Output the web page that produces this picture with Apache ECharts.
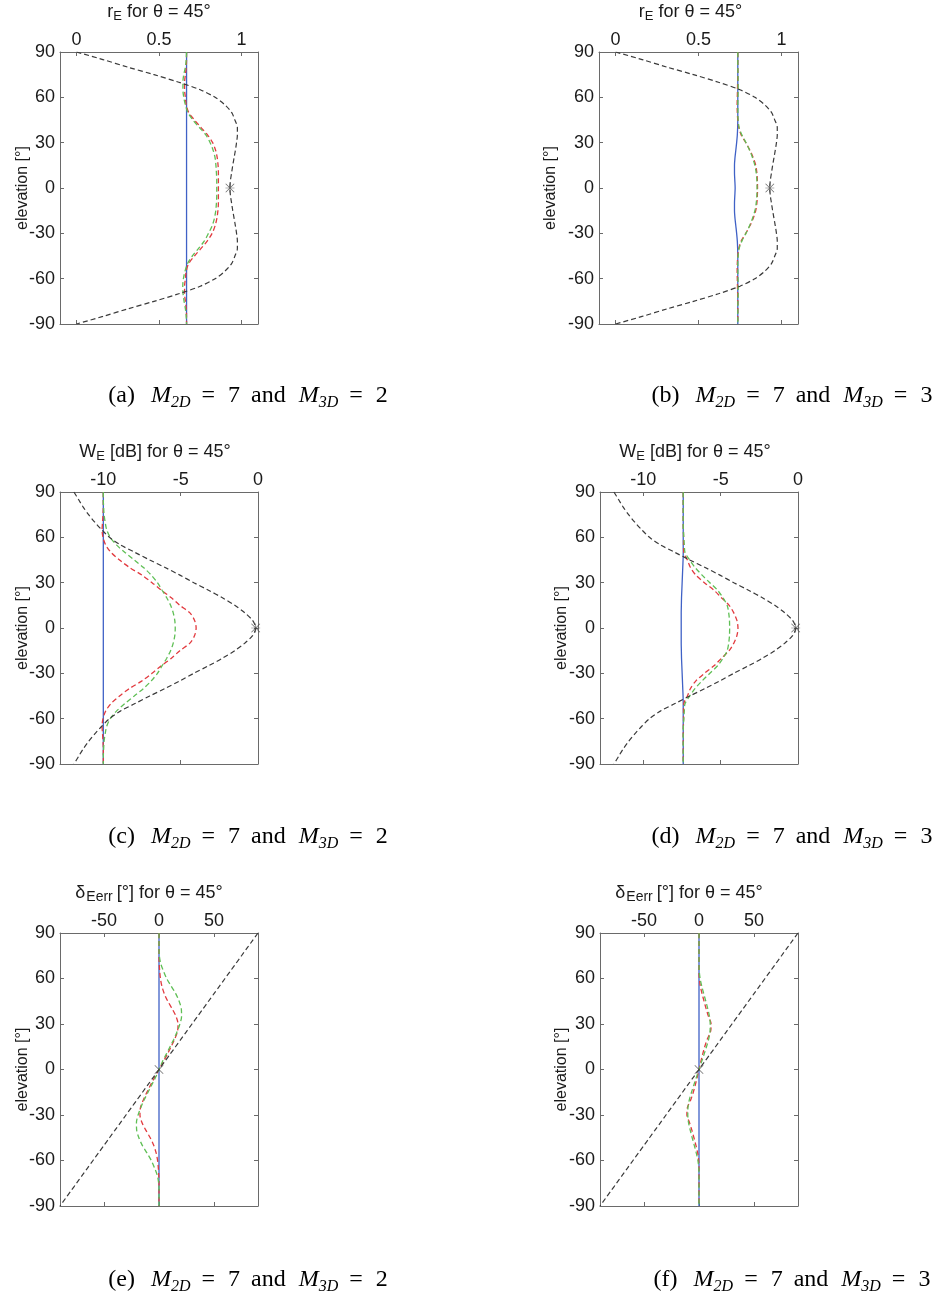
<!DOCTYPE html>
<html><head><meta charset="utf-8">
<script src="https://cdn.jsdelivr.net/npm/echarts@6/dist/echarts.min.js"></script>
<style>html,body{margin:0;padding:0;background:#fff}#c{width:936px;height:1296px}</style>
</head><body><div id="c"></div>
<script>
// elevation samples (degrees), top to bottom
const elevation = [90,85,80,75,70,65,60,55,50,45,40,35,30,25,20,15,10,5,0,-5,-10,-15,-20,-25,-30,-35,-40,-45,-50,-55,-60,-65,-70,-75,-80,-85,-90];
const elevationTicks = [-90,-60,-30,0,30,60,90];

// ---- r_E panels (a), (b)
const rETicks = [0, 0.5, 1];
const rERef = [0.00,0.16,0.31,0.47,0.62,0.75,0.84,0.90,0.94,0.96,0.975,0.975,0.97,0.963,0.955,0.947,0.94,0.933,
  0.93,
  0.933,0.94,0.947,0.955,0.963,0.97,0.975,0.975,0.96,0.94,0.90,0.84,0.75,0.62,0.47,0.31,0.16,0.00];
const rEBlueA = [0.667,0.667,0.667,0.667,0.667,0.667,0.667,0.667,0.667,0.667,0.667,0.667,0.667,0.667,0.667,0.667,0.667,0.667,
  0.667,
  0.667,0.667,0.667,0.667,0.667,0.667,0.667,0.667,0.667,0.667,0.667,0.667,0.667,0.667,0.667,0.667,0.667,0.667];
const rERedA = [0.667,0.667,0.665,0.660,0.655,0.655,0.660,0.665,0.680,0.715,0.755,0.795,0.825,0.843,0.853,0.858,0.860,0.860,
  0.860,
  0.860,0.860,0.857,0.851,0.840,0.822,0.793,0.755,0.715,0.680,0.665,0.660,0.655,0.655,0.660,0.665,0.667,0.667];
const rEGreenA = [0.667,0.665,0.660,0.650,0.645,0.645,0.650,0.660,0.675,0.705,0.745,0.785,0.810,0.828,0.840,0.845,0.848,0.850,
  0.850,
  0.850,0.848,0.844,0.836,0.822,0.800,0.775,0.740,0.702,0.673,0.658,0.648,0.644,0.646,0.652,0.660,0.665,0.667];
const rEBlueB = [0.737,0.737,0.737,0.737,0.737,0.737,0.737,0.737,0.737,0.737,0.736,0.734,0.730,0.725,0.720,0.717,0.717,0.719,
  0.721,
  0.719,0.717,0.717,0.720,0.725,0.730,0.734,0.736,0.737,0.737,0.737,0.737,0.737,0.737,0.737,0.737,0.737,0.737];
const rERedB = [0.737,0.737,0.737,0.737,0.736,0.735,0.734,0.733,0.734,0.737,0.743,0.758,0.785,0.810,0.830,0.845,0.852,0.855,
  0.856,
  0.855,0.852,0.845,0.830,0.810,0.785,0.758,0.743,0.737,0.734,0.733,0.734,0.735,0.736,0.737,0.737,0.737,0.737];
const rEGreenB = [0.737,0.737,0.737,0.738,0.739,0.739,0.738,0.737,0.737,0.739,0.745,0.762,0.786,0.808,0.826,0.840,0.848,0.852,
  0.853,
  0.852,0.848,0.840,0.826,0.808,0.786,0.762,0.745,0.739,0.737,0.737,0.738,0.739,0.739,0.738,0.737,0.737,0.737];
const rEMarker = [0.93, 0];

// ---- W_E panels (c), (d)  [dB]
const WTicks = [-10, -5, 0];
const WRef = [-11.9,-11.6,-11.3,-10.95,-10.55,-10.1,-9.6,-8.9,-7.95,-7.0,-6.0,-5.05,-4.15,-3.2,-2.3,-1.5,-0.85,-0.35,
  -0.15,
  -0.35,-0.85,-1.5,-2.3,-3.2,-4.15,-5.05,-6.0,-7.0,-7.95,-8.9,-9.6,-10.1,-10.55,-10.95,-11.3,-11.6,-11.9];
const WBlueC = [-10,-10,-10,-10,-10,-10,-10,-10,-10,-10,-10,-10,-10,-10,-10,-10,-10,-10,
  -10,
  -10,-10,-10,-10,-10,-10,-10,-10,-10,-10,-10,-10,-10,-10,-10,-10,-10,-10];
const WRedC = [-10,-10,-10,-10.02,-10.05,-10.08,-10.02,-9.85,-9.5,-8.95,-8.3,-7.5,-6.85,-6.25,-5.6,-5.05,-4.4,-4.1,
  -4.0,
  -4.1,-4.4,-5.05,-5.6,-6.25,-6.85,-7.5,-8.3,-8.95,-9.5,-9.85,-10.02,-10.08,-10.05,-10.02,-10,-10,-10];
const WGreenC = [-10,-10,-9.98,-9.95,-9.88,-9.78,-9.55,-9.15,-8.6,-8.0,-7.4,-6.9,-6.5,-6.2,-5.9,-5.65,-5.48,-5.38,
  -5.35,
  -5.38,-5.48,-5.65,-5.9,-6.2,-6.5,-6.9,-7.4,-8.0,-8.6,-9.15,-9.55,-9.78,-9.88,-9.95,-9.98,-10,-10];
const WBlueD = [-7.42,-7.42,-7.42,-7.42,-7.42,-7.42,-7.42,-7.42,-7.42,-7.43,-7.45,-7.47,-7.49,-7.51,-7.53,-7.54,-7.55,-7.55,
  -7.55,
  -7.55,-7.55,-7.54,-7.53,-7.51,-7.49,-7.47,-7.45,-7.43,-7.42,-7.42,-7.42,-7.42,-7.42,-7.42,-7.42,-7.42,-7.42];
const WRedD = [-7.42,-7.42,-7.42,-7.42,-7.42,-7.41,-7.4,-7.4,-7.38,-7.15,-6.95,-6.6,-6.05,-5.43,-4.95,-4.45,-4.15,-3.95,
  -3.88,
  -3.95,-4.15,-4.45,-4.95,-5.43,-6.05,-6.6,-6.95,-7.15,-7.38,-7.4,-7.4,-7.41,-7.42,-7.42,-7.42,-7.42,-7.42];
const WGreenD = [-7.42,-7.42,-7.42,-7.42,-7.42,-7.41,-7.38,-7.35,-7.3,-7.0,-6.65,-6.2,-5.7,-5.2,-4.85,-4.58,-4.48,-4.43,
  -4.42,
  -4.43,-4.48,-4.58,-4.85,-5.2,-5.7,-6.2,-6.65,-7.0,-7.3,-7.35,-7.38,-7.41,-7.42,-7.42,-7.42,-7.42,-7.42];
const WMarker = [-0.15, 0];

// ---- delta_Eerr panels (e), (f)  [deg]
const dTicks = [-50, 0, 50];
const dRef = [90,85,80,75,70,65,60,55,50,45,40,35,30,25,20,15,10,5,0,-5,-10,-15,-20,-25,-30,-35,-40,-45,-50,-55,-60,-65,-70,-75,-80,-85,-90];
const dBlue = [0,0,0,0,0,0,0,0,0,0,0,0,0,0,0,0,0,0,0,0,0,0,0,0,0,0,0,0,0,0,0,0,0,0,0,0,0];
const dRedE = [0,0,0,0,0.2,0.6,1.3,2.6,4.8,8,12,15.5,17.3,16.8,14.2,11,7.5,3.8,
  0,
  -3.8,-7.5,-11,-14.2,-16.8,-17.3,-15.5,-12,-8,-4.8,-2.6,-1.3,-0.6,-0.2,0,0,0,0];
const dGreenE = [0,0,0,0.3,1.5,4,7,11,15.2,18.3,20.3,20.5,19,16.5,13.5,10,6.5,3,
  0,
  -3,-6.5,-10,-13.5,-16.5,-19,-20.5,-20.3,-18.3,-15.2,-11,-7,-4,-1.5,-0.3,0,0,0];
const dRedF = [0,0,0,0,0,0,0.3,1.2,2.8,4.6,6.5,8.6,11,10.5,7.5,5.2,3.3,1.6,
  0,
  -1.6,-3.3,-5.2,-7.5,-10.5,-11,-8.6,-6.5,-4.6,-2.8,-1.2,-0.3,0,0,0,0,0,0];
const dGreenF = [0,0,0,0,0,0.2,1,2.5,4.3,6.2,8,9.5,10.2,10,8.8,6.8,4.6,2.3,
  0,
  -2.3,-4.6,-6.8,-8.8,-10,-10.2,-9.5,-8,-6.2,-4.3,-2.5,-1,-0.2,0,0,0,0,0];
const dMarker = [0, 0];

// ---------------------------------------------------------------
const FONT = 'Liberation Sans';
const SERIF = 'Liberation Serif';
const TXT = '#1a1a1a';
const FRAME = '#6a6a6a';
const C_BLUE = '#3f61c6', C_RED = '#e23a3f', C_GREEN = '#5fbf55', C_BLACK = '#3a3a3a';

const TITLE_RICH = {
  t: {fontFamily: FONT, fontSize: 18, color: TXT, lineHeight: 22},
  s: {fontFamily: FONT, fontSize: 13, color: TXT, lineHeight: 11, verticalAlign: 'bottom'},
  w: {fontFamily: FONT, fontSize: 14, color: TXT, lineHeight: 11, verticalAlign: 'bottom', padding: [0, 4, 0, 1]}
};
const CAP_RICH = {
  n: {fontFamily: SERIF, fontSize: 24, color: '#111', lineHeight: 30},
  p: {fontFamily: SERIF, fontSize: 24, color: '#111', lineHeight: 30, padding: [0, 16, 0, 0]},
  e: {fontFamily: SERIF, fontSize: 24, color: '#111', lineHeight: 30, padding: [0, 13, 0, 11]},
  i: {fontFamily: SERIF, fontSize: 24, fontStyle: 'italic', color: '#111', lineHeight: 30},
  s: {fontFamily: SERIF, fontSize: 16, fontStyle: 'italic', color: '#111', lineHeight: 15, verticalAlign: 'bottom'}
};
const STAR = 'path://M0,9.2L20,9.2L20,10.8L0,10.8Z M9.2,0L10.8,0L10.8,20L9.2,20Z M1.1,0L20,18.9L18.9,20L0,1.1Z M18.9,0L20,1.1L1.1,20L0,18.9Z';
const CROSS = 'path://M1.1,0L20,18.9L18.9,20L0,1.1Z M18.9,0L20,1.1L1.1,20L0,18.9Z';

const capText = (letter, m3) => '{p|(' + letter + ')}{i|M}{s|2D}{e|=}{n|7}{e|and}{i|M}{s|3D}{e|=}{n|' + m3 + '}';
const T_R = '{t|r}{s|E}{t| for θ = 45°}';
const T_W = '{t|W}{s|E}{t| [dB] for θ = 45°}';
const T_D = '{t|δ}{w|Eerr}{t|[°] for θ = 45°}';

const panels = [
  {left:60, top:52, w:198, h:272, xmin:-0.1, xmax:1.1, ticks:rETicks, ygap:29, tshift:0,
   title:T_R, blue:rEBlueA, red:rERedA, green:rEGreenA, ref:rERef,
   marker:rEMarker, sym:STAR, capX:248, capY:396, cap:capText('a', 2)},
  {left:599, top:52, w:199, h:272, xmin:-0.1, xmax:1.1, ticks:rETicks, ygap:40, tshift:8,
   title:T_R, blue:rEBlueB, red:rERedB, green:rEGreenB, ref:rERef,
   marker:rEMarker, sym:STAR, capX:792, capY:396, cap:capText('b', 3)},
  {left:60, top:492, w:198, h:272, xmin:-12.8, xmax:0, ticks:WTicks, ygap:29, tshift:4,
   title:T_W, blue:WBlueC, red:WRedC, green:WGreenC, ref:WRef,
   marker:WMarker, sym:STAR, capX:248, capY:837, cap:capText('c', 2)},
  {left:600, top:492, w:198, h:272, xmin:-12.8, xmax:0, ticks:WTicks, ygap:30, tshift:4,
   title:T_W, blue:WBlueD, red:WRedD, green:WGreenD, ref:WRef,
   marker:WMarker, sym:STAR, capX:792, capY:837, cap:capText('d', 3)},
  {left:60, top:933, w:198, h:273, xmin:-90, xmax:90, ticks:dTicks, ygap:29, tshift:10,
   title:T_D, blue:dBlue, red:dRedE, green:dGreenE, ref:dRef,
   marker:dMarker, sym:CROSS, capX:248, capY:1280, cap:capText('e', 2)},
  {left:600, top:933, w:198, h:273, xmin:-90, xmax:90, ticks:dTicks, ygap:30, tshift:10,
   title:T_D, blue:dBlue, red:dRedF, green:dGreenF, ref:dRef,
   marker:dMarker, sym:CROSS, capX:792, capY:1280, cap:capText('f', 3)}
];

const pairs = xs => xs.map((v, i) => [v, elevation[i]]);
const grids = [], xAxes = [], yAxes = [], series = [], graphics = [];
const axLine = {show:true, onZero:false, lineStyle:{color:FRAME, width:1}};
const tickOf = vals => ({show:true, inside:true, length:4, lineStyle:{color:FRAME, width:1}, customValues: vals});

panels.forEach((p, gi) => {
  grids.push({left:p.left, top:p.top, width:p.w, height:p.h, containLabel:false});
  xAxes.push({type:'value', gridIndex:gi, position:'top', min:p.xmin, max:p.xmax,
    axisLine:axLine, axisTick:tickOf(p.ticks),
    axisLabel:{customValues:p.ticks, margin:3, fontSize:18, fontFamily:FONT, color:TXT, showMinLabel:true, showMaxLabel:true},
    splitLine:{show:false},
    name:p.title, nameLocation:'middle', nameGap:29, nameMoveOverlap:false,
    nameTextStyle:{rich:TITLE_RICH, padding:[0, 2 * p.tshift, 0, 0]}});
  xAxes.push({type:'value', gridIndex:gi, position:'bottom', min:p.xmin, max:p.xmax,
    axisLine:axLine, axisTick:tickOf(p.ticks), axisLabel:{show:false}, splitLine:{show:false}});
  yAxes.push({type:'value', gridIndex:gi, position:'left', min:-90, max:90, interval:30,
    axisLine:axLine, axisTick:{show:true, inside:true, length:4, lineStyle:{color:FRAME}},
    axisLabel:{margin:5, fontSize:18, fontFamily:FONT, color:TXT},
    splitLine:{show:false},
    name:'elevation [°]', nameLocation:'middle', nameGap:p.ygap, nameMoveOverlap:false,
    nameTextStyle:{fontSize:16, fontFamily:FONT, color:TXT}});
  yAxes.push({type:'value', gridIndex:gi, position:'right', min:-90, max:90, interval:30,
    axisLine:axLine, axisTick:{show:true, inside:true, length:4, lineStyle:{color:FRAME}},
    axisLabel:{show:false}, splitLine:{show:false}});
  const xi = gi * 2, yi = gi * 2;
  const mk = (data, color, type, width) => ({type:'line', xAxisIndex:xi, yAxisIndex:yi, data:pairs(data),
    symbol:'none', smooth:0.3, silent:true, z:3,
    lineStyle:{color, type, width}});
  series.push(mk(p.blue, C_BLUE, 'solid', 1.3));
  series.push(mk(p.red, C_RED, [5, 3], 1.3));
  series.push(mk(p.green, C_GREEN, [5, 3], 1.3));
  series.push(mk(p.ref, C_BLACK, [5, 3], 1.2));
  series.push({type:'scatter', xAxisIndex:xi, yAxisIndex:yi, data:[p.marker], symbol:p.sym, symbolSize:9,
    itemStyle:{color:'#444'}, silent:true, z:5});
  graphics.push({type:'text', x:p.capX, y:p.capY,
    style:{text:p.cap, rich:CAP_RICH, align:'center', verticalAlign:'middle'}});
});

const chart = echarts.init(document.getElementById('c'));
chart.setOption({
  animation:false,
  backgroundColor:'#ffffff',
  grid:grids, xAxis:xAxes, yAxis:yAxes, series:series, graphic:graphics
});
</script>
</body></html>
